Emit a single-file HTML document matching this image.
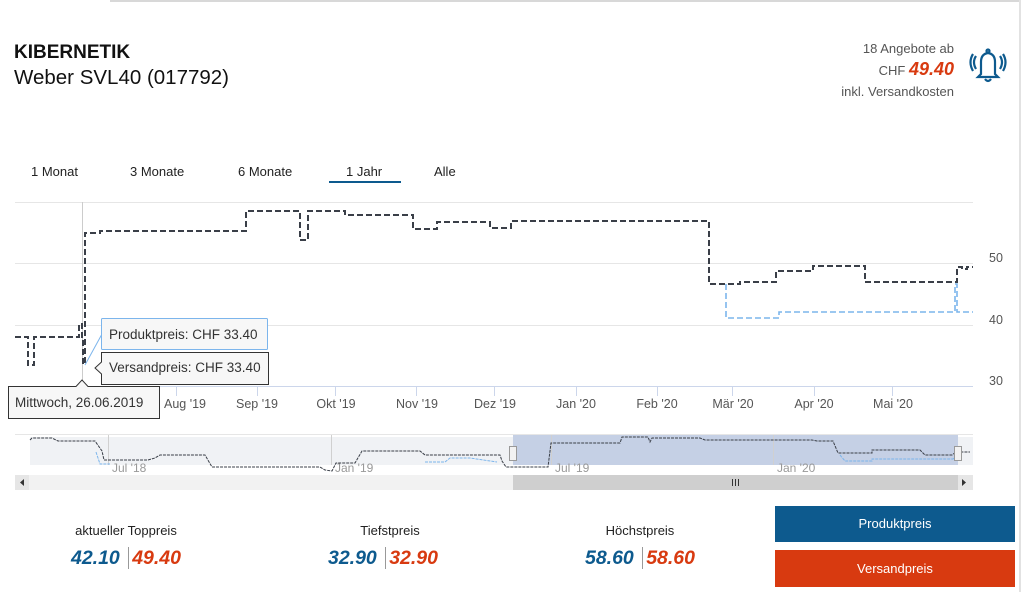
<!DOCTYPE html>
<html><head><meta charset="utf-8"><style>
*{margin:0;padding:0;box-sizing:border-box}
body{width:1024px;height:592px;background:#fff;font-family:"Liberation Sans",sans-serif;position:relative;overflow:hidden;color:#222}
.a{position:absolute;white-space:nowrap}
</style></head><body>
<div class="a" style="left:110px;top:0;width:910px;height:2px;background:#d8d8d8"></div>
<div class="a" style="left:1019px;top:0;width:2px;height:592px;background:#e2e2e2"></div>
<div class="a" style="left:14px;top:42px;font-size:19px;font-weight:bold;color:#111">KIBERNETIK</div>
<div class="a" style="left:14px;top:66px;font-size:20.5px;color:#111">Weber SVL40 (017792)</div>
<div class="a" style="right:70px;top:38px;font-size:13px;color:#555;text-align:right;line-height:21px">18 Angebote ab<br>CHF <b style="color:#d83a10;font-size:18px;font-style:italic">49.40</b><br><span style="line-height:14px">inkl. Versandkosten</span></div>
<svg class="a" style="left:968px;top:46px" width="40" height="40" viewBox="0 0 40 40" fill="none" stroke="#0d5a8e" stroke-width="2.2">
<path d="M13 28 L13 16 Q13 8 20 7 Q27 8 27 16 L27 28 L30 31 L10 31 Z"/><circle cx="20" cy="5" r="1.5"/><path d="M17 33 Q20 37 23 33"/>
<path d="M8 10 Q4 16 8 23 M5 8 Q0 16 5 25 M32 10 Q36 16 32 23 M35 8 Q40 16 35 25"/></svg>
<div class="a" style="left:31px;top:164px;font-size:13px">1 Monat</div>
<div class="a" style="left:130px;top:164px;font-size:13px">3 Monate</div>
<div class="a" style="left:238px;top:164px;font-size:13px">6 Monate</div>
<div class="a" style="left:346px;top:164px;font-size:13px">1 Jahr</div>
<div class="a" style="left:329px;top:181px;width:72px;height:2px;background:#0d5a8e"></div>
<div class="a" style="left:434px;top:164px;font-size:13px">Alle</div>
<svg class="a" style="left:0;top:0" width="1024" height="592">
<g stroke="#e6e6e6" stroke-width="1"><line x1="15" y1="202.5" x2="973" y2="202.5"/><line x1="15" y1="263.5" x2="973" y2="263.5"/><line x1="15" y1="325.5" x2="973" y2="325.5"/></g>
<line x1="15" y1="386.5" x2="973" y2="386.5" stroke="#ccd6eb"/>
<g stroke="#ccd6eb"><line x1="176.5" y1="387" x2="176.5" y2="396"/><line x1="257.5" y1="387" x2="257.5" y2="396"/><line x1="335.5" y1="387" x2="335.5" y2="396"/><line x1="416.5" y1="387" x2="416.5" y2="396"/><line x1="494.5" y1="387" x2="494.5" y2="396"/><line x1="576.5" y1="387" x2="576.5" y2="396"/><line x1="657.5" y1="387" x2="657.5" y2="396"/><line x1="732.5" y1="387" x2="732.5" y2="396"/><line x1="814.5" y1="387" x2="814.5" y2="396"/><line x1="892.5" y1="387" x2="892.5" y2="396"/></g>
<line x1="82.5" y1="202" x2="82.5" y2="387" stroke="#ccc"/>
<g font-size="12.5" fill="#555" text-anchor="middle" font-family="Liberation Sans">
<text x="185" y="408">Aug '19</text><text x="257" y="408">Sep '19</text><text x="336" y="408">Okt '19</text><text x="417" y="408">Nov '19</text><text x="495" y="408">Dez '19</text><text x="576" y="408">Jan '20</text><text x="657" y="408">Feb '20</text><text x="733" y="408">Mär '20</text><text x="814" y="408">Apr '20</text><text x="893" y="408">Mai '20</text>
<text x="996" y="262">50</text><text x="996" y="324">40</text><text x="996" y="385">30</text></g>
<path d="M726 284 V318 H779 V312 H955 V284 H957 V312 H973" fill="none" stroke="#7cb5ec" stroke-width="1.6" stroke-dasharray="6,3"/>
<path d="M15 337 H28 V365 H34 V337 H79 V324 H82 V337 H83 V364 H85 V233 H100 V231 H246 V211 H300 V240 H308 V211 H345 V215 H413 V229 H437 V222 H490 V228 H511 V221 H709 V284 H740 V282 H776 V271 H813 V266 H865 V282 H957 V267 H962 V269 H967 V267 H973" fill="none" stroke="#3a3f48" stroke-width="2" stroke-dasharray="6,3"/>
<line x1="15" y1="434.5" x2="973" y2="434.5" stroke="#e6e6e6"/>
<rect x="30" y="437" width="943" height="28" fill="#f0f2f5"/>
<rect x="513" y="435" width="445" height="30" fill="#c5d0e5"/>
<g stroke="#d0d0d0"><line x1="108.5" y1="435" x2="108.5" y2="465"/><line x1="331.5" y1="435" x2="331.5" y2="465"/><line x1="551.5" y1="435" x2="551.5" y2="465"/><line x1="773.5" y1="435" x2="773.5" y2="465"/></g>
<g font-size="12" fill="#999"><text x="112" y="472">Jul '18</text><text x="335" y="472">Jan '19</text><text x="555" y="472">Jul '19</text><text x="777" y="472">Jan '20</text></g>
<path d="M96 452 L100 464 H110 M425 462 H445 L450 458 H470 L497 462 M840 455 L845 461 H872 V459 H953 L957 455" fill="none" stroke="#7cb5ec" stroke-width="1" stroke-dasharray="3,1"/>
<path d="M30 440 L32 438 H52 L58 441 H95 L102 451 L104 460 H148 L155 458 L160 455 H205 L212 467 H320 L325 470 L332 471 L336 463 H355 L362 451 H420 L425 455 H500 L502 461 L506 467 H548 L551 443 H620 L622 437 H648 L650 442 L652 438 H700 L705 440 H812 L817 441 H833 L838 453 H872 V450 H920 L925 455 H952 L956 452 L970 452" fill="none" stroke="#3a3f48" stroke-width="1" stroke-dasharray="3,1"/>
<rect x="509.5" y="446.5" width="7" height="14" fill="#f2f2f2" stroke="#999"/>
<rect x="954.5" y="446.5" width="7" height="14" fill="#f2f2f2" stroke="#999"/>
<rect x="15" y="475" width="958" height="15" fill="#f2f2f2"/>
<rect x="513" y="475" width="445" height="15" fill="#cfcfcf"/>
<rect x="15" y="475" width="14" height="15" fill="#e6e6e6"/><rect x="958" y="475" width="15" height="15" fill="#e6e6e6"/>
<path d="M24 479 L20 482.5 L24 486 Z M962 479 L966 482.5 L962 486 Z" fill="#333"/>
<g stroke="#333"><line x1="732.5" y1="479" x2="732.5" y2="486"/><line x1="735.5" y1="479" x2="735.5" y2="486"/><line x1="738.5" y1="479" x2="738.5" y2="486"/></g>
<line x1="85" y1="365" x2="102" y2="334" stroke="#7cb5ec"/>
<rect x="101.5" y="318.5" width="166" height="31" fill="#f7f7f7" stroke="#7cb5ec" rx="1"/>
<text x="109" y="339" font-size="13.5" fill="#333">Produktpreis: CHF 33.40</text>
<path d="M101.5 352.5 H268.5 V384.5 H101.5 V374 L95 368 L101.5 362 Z" fill="#f7f7f7" stroke="#333"/>
<text x="109" y="372" font-size="13.5" fill="#333">Versandpreis: CHF 33.40</text>
<path d="M8.5 386.5 H76 L82 380 L88 386.5 H159.5 V418.5 H8.5 Z" fill="#f7f7f7" stroke="#333"/>
<text x="15" y="407" font-size="13.5" fill="#333">Mittwoch, 26.06.2019</text>
</svg>
<div class="a" style="left:0;top:523px;width:252px;text-align:center;font-size:13px">aktueller Toppreis</div>
<div class="a" style="left:264px;top:523px;width:252px;text-align:center;font-size:13px">Tiefstpreis</div>
<div class="a" style="left:514px;top:523px;width:252px;text-align:center;font-size:13px">Höchstpreis</div>
<div class="a" style="left:0;top:547px;width:252px;text-align:center;font-size:19.5px;font-weight:bold;font-style:italic"><span style="color:#0d5a8e">42.10</span> <span style="border-left:1px solid #999;margin:0 3px"></span> <span style="color:#d83a10">49.40</span></div>
<div class="a" style="left:257px;top:547px;width:252px;text-align:center;font-size:19.5px;font-weight:bold;font-style:italic"><span style="color:#0d5a8e">32.90</span> <span style="border-left:1px solid #999;margin:0 3px"></span> <span style="color:#d83a10">32.90</span></div>
<div class="a" style="left:514px;top:547px;width:252px;text-align:center;font-size:19.5px;font-weight:bold;font-style:italic"><span style="color:#0d5a8e">58.60</span> <span style="border-left:1px solid #999;margin:0 3px"></span> <span style="color:#d83a10">58.60</span></div>
<div class="a" style="left:775px;top:506px;width:240px;height:36px;background:#0d5a8e;color:#fff;font-size:13px;text-align:center;line-height:36px">Produktpreis</div>
<div class="a" style="left:775px;top:550px;width:240px;height:37px;background:#d83a10;color:#fff;font-size:13px;text-align:center;line-height:37px">Versandpreis</div>
</body></html>
